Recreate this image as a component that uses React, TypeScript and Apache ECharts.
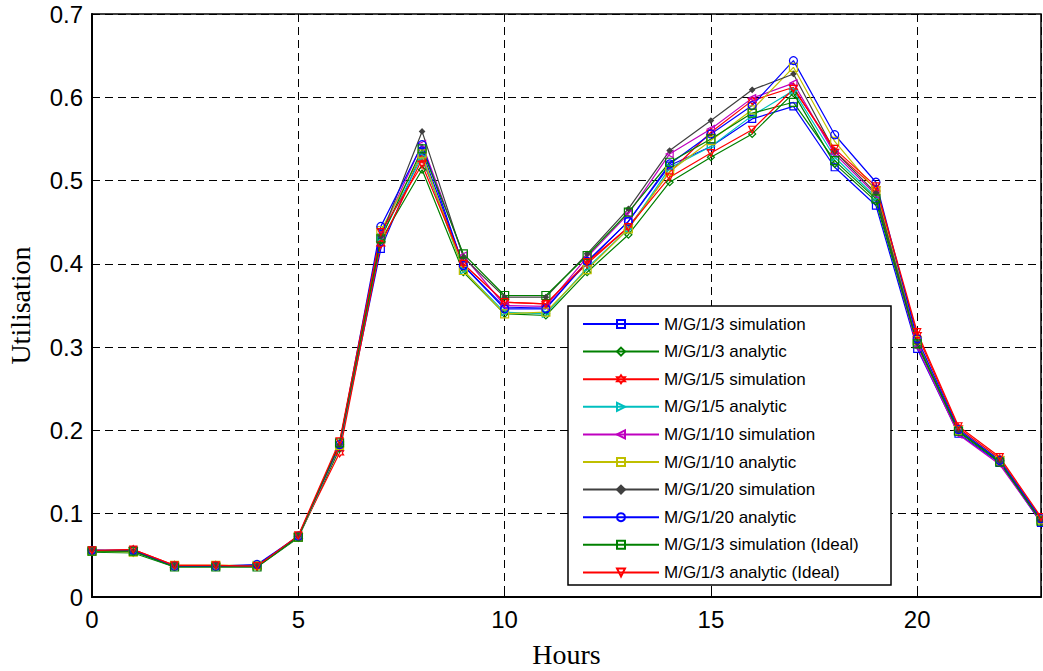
import React, { useEffect, useRef } from "react";
import * as echarts from "echarts";

const hours = [0, 1, 2, 3, 4, 5, 6, 7, 8, 9, 10, 11, 12, 13, 14, 15, 16, 17, 18, 19, 20, 21, 22, 23];

const seriesNames = [
  "M/G/1/3 simulation",
  "M/G/1/3 analytic",
  "M/G/1/5 simulation",
  "M/G/1/5 analytic",
  "M/G/1/10 simulation",
  "M/G/1/10 analytic",
  "M/G/1/20 simulation",
  "M/G/1/20 analytic",
  "M/G/1/3 simulation (Ideal)",
  "M/G/1/3 analytic (Ideal)",
];

const mg13Sim = [0.056, 0.056, 0.037, 0.037, 0.038, 0.072, 0.18, 0.418, 0.535, 0.398, 0.348, 0.347, 0.402, 0.451, 0.518, 0.541, 0.574, 0.589, 0.516, 0.47, 0.298, 0.196, 0.161, 0.089];
const mg13Ana = [0.054, 0.053, 0.036, 0.036, 0.036, 0.071, 0.178, 0.428, 0.513, 0.39, 0.34, 0.338, 0.39, 0.435, 0.498, 0.528, 0.556, 0.605, 0.52, 0.475, 0.303, 0.198, 0.162, 0.091];
const mg15Sim = [0.055, 0.057, 0.038, 0.038, 0.037, 0.073, 0.173, 0.424, 0.526, 0.4, 0.354, 0.352, 0.4, 0.444, 0.51, 0.558, 0.596, 0.612, 0.535, 0.49, 0.315, 0.203, 0.166, 0.094];
const mg15Ana = [0.055, 0.054, 0.037, 0.037, 0.037, 0.072, 0.181, 0.432, 0.529, 0.392, 0.342, 0.34, 0.395, 0.442, 0.515, 0.541, 0.578, 0.608, 0.528, 0.48, 0.305, 0.2, 0.163, 0.092];
const mg110Sim = [0.056, 0.055, 0.037, 0.037, 0.037, 0.072, 0.182, 0.435, 0.544, 0.41, 0.35, 0.349, 0.408, 0.46, 0.532, 0.562, 0.599, 0.617, 0.532, 0.483, 0.3, 0.195, 0.159, 0.09];
const mg110Ana = [0.055, 0.054, 0.038, 0.038, 0.038, 0.072, 0.182, 0.44, 0.532, 0.392, 0.34, 0.342, 0.393, 0.442, 0.511, 0.548, 0.585, 0.636, 0.547, 0.488, 0.308, 0.2, 0.164, 0.093];
const mg120Sim = [0.056, 0.055, 0.037, 0.037, 0.037, 0.073, 0.183, 0.433, 0.559, 0.408, 0.36, 0.36, 0.412, 0.466, 0.536, 0.572, 0.609, 0.628, 0.535, 0.485, 0.305, 0.199, 0.163, 0.092];
const mg120Ana = [0.056, 0.056, 0.037, 0.037, 0.039, 0.073, 0.183, 0.445, 0.543, 0.398, 0.346, 0.346, 0.403, 0.451, 0.52, 0.556, 0.59, 0.644, 0.555, 0.498, 0.31, 0.201, 0.164, 0.094];
const mg13SimIdeal = [0.055, 0.055, 0.036, 0.036, 0.036, 0.072, 0.185, 0.43, 0.538, 0.412, 0.362, 0.362, 0.41, 0.462, 0.522, 0.55, 0.581, 0.594, 0.524, 0.478, 0.304, 0.199, 0.162, 0.091];
const mg13AnaIdeal = [0.056, 0.057, 0.038, 0.038, 0.037, 0.074, 0.187, 0.438, 0.519, 0.4, 0.354, 0.352, 0.402, 0.444, 0.504, 0.533, 0.561, 0.61, 0.538, 0.493, 0.318, 0.205, 0.168, 0.096];

const xTicks = [0, 5, 10, 15, 20];
const yTicks = [0, 0.1, 0.2, 0.3, 0.4, 0.5, 0.6, 0.7];

const HEX = "path://M0,-10 L2.9,-5 L8.66,-5 L5.8,0 L8.66,5 L2.9,5 L0,10 L-2.9,5 L-8.66,5 L-5.8,0 L-8.66,-5 L-2.9,-5 Z";

const styles = [
  { color: "#0000FF", symbol: "rect", rotate: 0, size: 7, fill: false },
  { color: "#008000", symbol: "diamond", rotate: 0, size: 7, fill: false },
  { color: "#FF0000", symbol: HEX, rotate: 0, size: 8, fill: false },
  { color: "#00BFBF", symbol: "triangle", rotate: -90, size: 7, fill: false },
  { color: "#BF00BF", symbol: "triangle", rotate: 90, size: 7, fill: false },
  { color: "#BFBF00", symbol: "rect", rotate: 0, size: 8, fill: false },
  { color: "#404040", symbol: "diamond", rotate: 0, size: 5, fill: true },
  { color: "#0000FF", symbol: "circle", rotate: 0, size: 8, fill: false },
  { color: "#008000", symbol: "rect", rotate: 0, size: 8, fill: false },
  { color: "#FF0000", symbol: "triangle", rotate: 180, size: 7, fill: false },
];

const allValues = [mg13Sim, mg13Ana, mg15Sim, mg15Ana, mg110Sim, mg110Ana, mg120Sim, mg120Ana, mg13SimIdeal, mg13AnaIdeal];

export default function App() {
  const ref = useRef<HTMLDivElement>(null);
  useEffect(() => {
    if (!ref.current) return;
    const chart = echarts.init(ref.current, null, { renderer: "svg" });
    const series = allValues.map((vals, i) => {
      const s = styles[i];
      return {
        name: seriesNames[i],
        type: "line",
        data: hours.map((h, j) => [h, vals[j]]),
        symbol: s.symbol,
        symbolSize: s.size,
        symbolRotate: s.rotate,
        showAllSymbol: true,
        lineStyle: { color: s.color, width: 1.2 },
        itemStyle: {
          color: s.fill ? s.color : "rgba(255,255,255,0)",
          borderColor: s.color,
          borderWidth: 1.2,
        },
        emphasis: { disabled: true },
        z: 2,
      };
    });
    chart.setOption({
      animation: false,
      backgroundColor: "#ffffff",
      grid: {
        left: 92,
        right: 2,
        top: 14,
        bottom: 74,
        show: true,
        containLabel: false,
        outerBoundsMode: "none",
        borderColor: "#000",
        borderWidth: 1.5,
        backgroundColor: "transparent",
      },
      xAxis: {
        type: "value",
        min: 0,
        max: 23,
        interval: 5,
        name: "Hours",
        nameLocation: "middle",
        nameGap: 43,
        nameTextStyle: { fontFamily: "Liberation Serif", fontSize: 28, color: "#000" },
        axisLine: { show: true, onZero: false, lineStyle: { color: "#000", width: 2 } },
        axisTick: { show: true, inside: true, length: 5, lineStyle: { color: "#000" } },
        axisLabel: {
          fontFamily: "Liberation Sans",
          fontSize: 24,
          color: "#000",
          margin: 10,
          formatter: (v: number) => (xTicks.includes(v) ? String(v) : ""),
        },
        splitLine: { show: true, lineStyle: { color: "#000", type: [8, 5], width: 1 } },
      },
      yAxis: {
        type: "value",
        min: 0,
        max: 0.7,
        interval: 0.1,
        name: "Utilisation",
        nameLocation: "middle",
        nameGap: 58,
        nameTextStyle: { fontFamily: "Liberation Serif", fontSize: 28, color: "#000" },
        axisLine: { show: true, lineStyle: { color: "#000", width: 2 } },
        axisTick: { show: true, inside: true, length: 5, lineStyle: { color: "#000" } },
        axisLabel: {
          fontFamily: "Liberation Sans",
          fontSize: 24,
          color: "#000",
          margin: 9,
          formatter: (v: number) => {
            const t = yTicks.find((y) => Math.abs(y - v) < 1e-6);
            if (t === undefined) return "";
            return t === 0 ? "0" : t.toFixed(1);
          },
        },
        splitLine: { show: true, lineStyle: { color: "#000", type: [8, 5], width: 1 } },
      },
      graphic: [
        {
          type: "rect",
          z: 3,
          shape: { x: 568, y: 306, width: 323, height: 279 },
          style: { fill: "#fff", stroke: "#000", lineWidth: 1.5 },
        },
      ],
      legend: {
        orient: "vertical",
        left: 568,
        top: 306,
        padding: [8, 20, 4, 14],
        itemWidth: 76,
        itemHeight: 10,
        itemGap: 7.6,
        z: 4,
        selectedMode: false,
        textStyle: { fontFamily: "Liberation Sans", fontSize: 17, color: "#000", lineHeight: 20, height: 20 },
        data: seriesNames,
      },
      series,
    });
    return () => chart.dispose();
  }, []);
  return <div ref={ref} style={{ position: "fixed", left: 0, top: 0, width: 1043, height: 671 }} />;
}
